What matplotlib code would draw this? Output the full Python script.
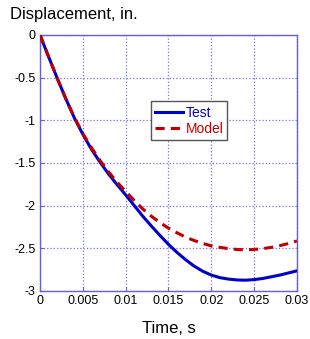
import matplotlib
matplotlib.use("Agg")
import matplotlib.pyplot as plt
import numpy as np

plt.rcParams['font.family'] = ['Liberation Sans', 'DejaVu Sans']

# time, s
t = [0, 0.001, 0.002, 0.003, 0.004, 0.005, 0.006, 0.007, 0.008, 0.009,
     0.010, 0.011, 0.012, 0.013, 0.014, 0.015, 0.016, 0.017, 0.018, 0.019,
     0.020, 0.021, 0.022, 0.023, 0.024, 0.025, 0.026, 0.027, 0.028, 0.029, 0.030]
# displacement, in.
test = [0, -0.255, -0.505, -0.745, -0.97, -1.165, -1.34, -1.49, -1.63, -1.755,
        -1.875, -2.0, -2.125, -2.24, -2.35, -2.455, -2.55, -2.635, -2.71, -2.77,
        -2.815, -2.845, -2.862, -2.872, -2.875, -2.868, -2.855, -2.835, -2.815, -2.79, -2.765]
model = [0, -0.255, -0.505, -0.745, -0.965, -1.155, -1.32, -1.47, -1.605, -1.725,
         -1.835, -1.94, -2.04, -2.125, -2.20, -2.265, -2.32, -2.37, -2.41, -2.445,
         -2.472, -2.49, -2.505, -2.515, -2.518, -2.515, -2.505, -2.49, -2.47, -2.445, -2.415]

xticks = [0, 0.005, 0.01, 0.015, 0.02, 0.025, 0.03]
xticklabels = ['0', '0.005', '0.01', '0.015', '0.02', '0.025', '0.03']
yticks = [0, -0.5, -1, -1.5, -2, -2.5, -3]
yticklabels = ['0', '-0.5', '-1', '-1.5', '-2', '-2.5', '-3']

fig = plt.figure(figsize=(3.1, 3.39), dpi=100)
ax = fig.add_axes([0.129, 0.142, 0.829, 0.755])

ax.plot(t, test, color='#0000cc', lw=2.2, label='Test', zorder=3)
ax.plot(t, model, color='#c00000', lw=2.2, ls=(0, (3, 2)), label='Model', zorder=4)

ax.set_xlim(0, 0.03)
ax.set_ylim(-3, 0)
ax.set_xticks(xticks)
ax.set_xticklabels(xticklabels, fontsize=9)
ax.set_yticks(yticks)
ax.set_yticklabels(yticklabels, fontsize=9)
ax.tick_params(direction='in', length=3, color='#6060e0', pad=3)
ax.grid(True, color='#7070ff', ls=':', lw=0.9)
for s in ax.spines.values():
    s.set_color('#6060e0')
    s.set_linewidth(1.0)

leg = ax.legend(loc='center', bbox_to_anchor=(0.58, 0.664), fontsize=10,
                handlelength=2.0, handletextpad=0.2, borderpad=0.3,
                fancybox=False, framealpha=1, edgecolor='#555555', labelspacing=0.2)
for txt, c in zip(leg.get_texts(), ['#0000cc', '#c00000']):
    txt.set_color(c)

fig.text(0.032, 0.945, 'Displacement, in.', fontsize=12, ha='left', va='baseline')
fig.text(0.545, 0.018, 'Time, s', fontsize=12, ha='center', va='baseline')

fig.savefig('out.png', dpi=100)
